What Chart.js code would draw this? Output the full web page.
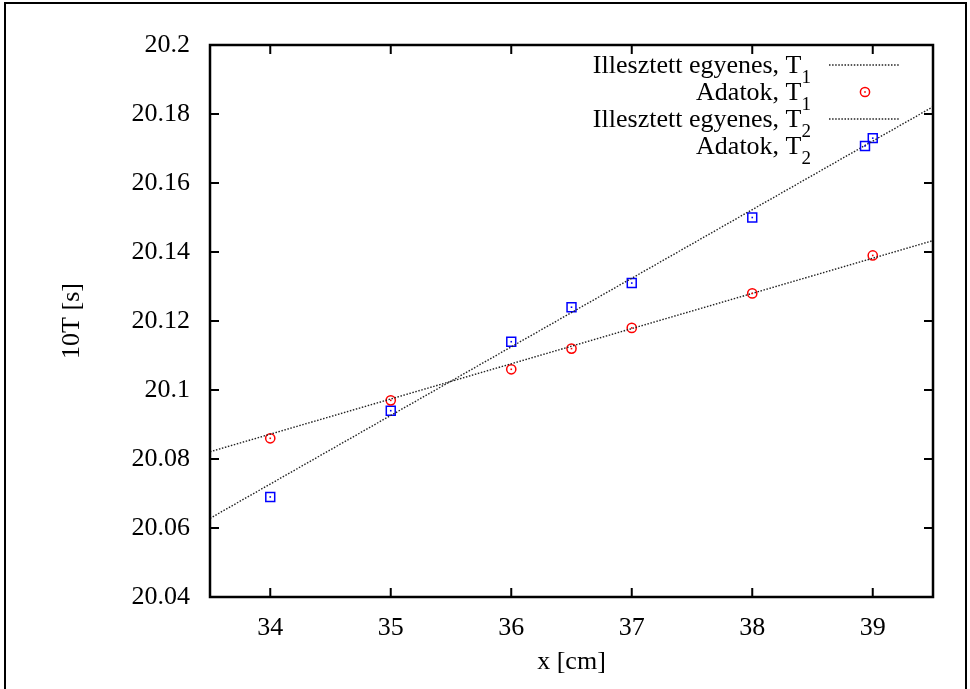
<!DOCTYPE html>
<html>
<head>
<meta charset="utf-8">
<script src="https://cdn.jsdelivr.net/npm/chart.js@4/dist/chart.umd.min.js"></script>
<style>
  body { margin: 0; background: #fff; }
  canvas { display: block; }
</style>
</head>
<body>
<canvas id="mycanvas" width="970" height="689"></canvas>
<script>
// measured positions (x in cm)
var xPos = [34, 35, 36, 36.5, 37, 38, 39];
// 10T values
var t1 = [20.086, 20.097, 20.106, 20.112, 20.118, 20.128, 20.139];
var t2 = [20.069, 20.094, 20.114, 20.124, 20.131, 20.150, 20.173];
// fitted lines, read at the two edges of the plot
var fitX = [33.5, 39.5];
var fitT1 = [20.0821, 20.1433];
var fitT2 = [20.0628, 20.1821];
// tick labels
var xTicks = [34, 35, 36, 37, 38, 39];
var yTicks = [20.04, 20.06, 20.08, 20.1, 20.12, 20.14, 20.16, 20.18, 20.2];

var legendLabels = [
  {text: "Illesztett egyenes, T", sub: "1"},
  {text: "Adatok, T", sub: "1"},
  {text: "Illesztett egyenes, T", sub: "2"},
  {text: "Adatok, T", sub: "2"}
];

function pts(xs, ys) {
  var out = [];
  for (var i = 0; i < xs.length; i++) out.push({x: xs[i], y: ys[i]});
  return out;
}

var RED = "#ff0000";
var BLUE = "#0000ff";
var FONT = "'Liberation Serif', 'Times New Roman', serif";

Chart.defaults.font.family = FONT;
Chart.defaults.font.size = 26;
Chart.defaults.color = "#000";

function fitStyle(data) {
  return {
    data: data,
    showLine: true,
    fill: false,
    borderColor: "#222",
    borderWidth: 1.4,
    borderDash: [1.5, 1.6],
    pointRadius: 0,
    pointHoverRadius: 0
  };
}

// frame, inward ticks, marker centre dots and the legend
var gnuplotLook = {
  id: "gnuplotLook",
  afterDatasetsDraw: function(chart) {
    var ctx = chart.ctx;
    ctx.save();
    [1, 3].forEach(function(di) {
      var meta = chart.getDatasetMeta(di);
      ctx.fillStyle = chart.data.datasets[di].borderColor;
      meta.data.forEach(function(p) {
        ctx.fillRect(p.x - 0.8, p.y - 0.8, 1.6, 1.6);
      });
    });
    ctx.restore();
  },
  afterDraw: function(chart) {
    var ctx = chart.ctx;
    var a = chart.chartArea;
    var xs = chart.scales.x, ys = chart.scales.y;
    ctx.save();
    // outer frame of the picture
    ctx.strokeStyle = "#000";
    ctx.lineWidth = 2;
    ctx.strokeRect(5, 3, 961, 700);
    // plot border
    ctx.lineWidth = 2.5;
    ctx.strokeRect(a.left, a.top, a.right - a.left, a.bottom - a.top);
    // inward ticks on all four sides
    ctx.lineWidth = 2;
    ctx.beginPath();
    var tl = 9;
    xTicks.forEach(function(v) {
      var px = xs.getPixelForValue(v);
      ctx.moveTo(px, a.bottom); ctx.lineTo(px, a.bottom - tl);
      ctx.moveTo(px, a.top); ctx.lineTo(px, a.top + tl);
    });
    yTicks.forEach(function(v) {
      var py = ys.getPixelForValue(v);
      ctx.moveTo(a.left, py); ctx.lineTo(a.left + tl, py);
      ctx.moveTo(a.right, py); ctx.lineTo(a.right - tl, py);
    });
    ctx.stroke();

    // legend
    var textRight = 811, sampleX0 = 829, sampleX1 = 900, markX = 865;
    var y0 = 65, dy = 27;
    legendLabels.forEach(function(lab, i) {
      var cy = y0 + i * dy;
      ctx.font = "19px " + FONT;
      var sw = ctx.measureText(lab.sub).width;
      ctx.fillStyle = "#000";
      ctx.textBaseline = "alphabetic";
      ctx.textAlign = "left";
      ctx.fillText(lab.sub, textRight - sw, cy + 18);
      ctx.font = "26px " + FONT;
      ctx.textAlign = "right";
      ctx.fillText(lab.text, textRight - sw, cy + 8);

      var ds = chart.data.datasets[i];
      if (i === 0 || i === 2) {
        ctx.strokeStyle = ds.borderColor;
        ctx.lineWidth = ds.borderWidth;
        ctx.setLineDash(ds.borderDash);
        ctx.beginPath();
        ctx.moveTo(sampleX0, cy);
        ctx.lineTo(sampleX1, cy);
        ctx.stroke();
        ctx.setLineDash([]);
      } else {
        ctx.strokeStyle = ds.borderColor;
        ctx.fillStyle = ds.borderColor;
        ctx.lineWidth = ds.borderWidth;
        ctx.beginPath();
        if (ds.pointStyle === "circle") {
          ctx.arc(markX, cy, ds.pointRadius, 0, Math.PI * 2);
        } else {
          var h = ds.pointRadius * Math.SQRT1_2;
          ctx.rect(markX - h, cy - h, 2 * h, 2 * h);
        }
        ctx.stroke();
        ctx.fillRect(markX - 0.8, cy - 0.8, 1.6, 1.6);
      }
    });
    ctx.restore();
  }
};

var chartdata = {
  datasets: [
    Object.assign(fitStyle(pts(fitX, fitT1)), {label: "Illesztett egyenes, T1"}),
    {
      label: "Adatok, T1",
      data: pts(xPos, t1),
      showLine: false,
      pointStyle: "circle",
      pointRadius: 4.6,
      borderColor: RED,
      backgroundColor: "rgba(0,0,0,0)",
      borderWidth: 1.5
    },
    Object.assign(fitStyle(pts(fitX, fitT2)), {label: "Illesztett egyenes, T2"}),
    {
      label: "Adatok, T2",
      data: pts(xPos, t2),
      showLine: false,
      pointStyle: "rect",
      pointRadius: 6.3,
      borderColor: BLUE,
      backgroundColor: "rgba(0,0,0,0)",
      borderWidth: 1.5
    }
  ]
};

var ctx = document.getElementById("mycanvas");

var scatter = new Chart(ctx, {
  type: "scatter",
  data: chartdata,
  plugins: [gnuplotLook],
  options: {
    responsive: false,
    animation: false,
    events: [],
    layout: { padding: { top: 45, right: 37, left: 0, bottom: 0 } },
    plugins: {
      legend: { display: false },
      tooltip: { enabled: false }
    },
    scales: {
      x: {
        type: "linear",
        min: 33.5,
        max: 39.5,
        grid: { display: false },
        border: { display: false },
        afterBuildTicks: function(s) { s.ticks = xTicks.map(function(v) { return {value: v}; }); },
        afterFit: function(s) { s.height = 92; },
        ticks: {
          padding: 8,
          maxRotation: 0,
          callback: function(v) { return String(v); }
        },
        title: {
          display: true,
          text: "x [cm]",
          padding: { top: 0, bottom: 11 }
        }
      },
      y: {
        type: "linear",
        min: 20.04,
        max: 20.2,
        grid: { display: false },
        border: { display: false },
        afterBuildTicks: function(s) { s.ticks = yTicks.map(function(v) { return {value: v}; }); },
        afterFit: function(s) { s.width = 210; },
        ticks: {
          padding: 12,
          callback: function(v) { return String(+v.toFixed(2)); }
        },
        title: {
          display: true,
          text: "10T [s]",
          padding: { top: 57, bottom: 0 }
        }
      }
    }
  }
});
</script>
</body>
</html>
